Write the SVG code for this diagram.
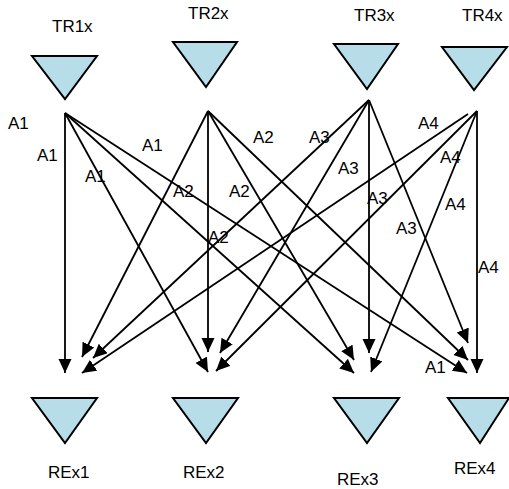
<svg xmlns="http://www.w3.org/2000/svg" width="509" height="489" viewBox="0 0 509 489">
<defs>
<style>
.tri{fill:#b7dde8;stroke:#000;stroke-width:2;stroke-linejoin:miter}
.lbl{font-family:"Liberation Sans",Arial,sans-serif;font-size:17px;fill:#000}
.c{stroke:#000;stroke-width:1.8;fill:none;marker-end:url(#ah)}
</style>
<marker id="ah" markerUnits="userSpaceOnUse" markerWidth="15" markerHeight="14" refX="14" refY="6.5" orient="auto">
<path d="M0,0 L14,6.5 L0,13 z" fill="#000"/>
</marker>
</defs>
<rect width="509" height="489" fill="#fff"/>
<g id="TR1"><polygon class="tri" points="32,56 97,56 65,99"/><text class="lbl" x="52" y="32">TR1x</text></g>
<g id="TR2"><polygon class="tri" points="173,42 237,42 206,87"/><text class="lbl" x="188" y="19">TR2x</text></g>
<g id="TR3"><polygon class="tri" points="334,44 398,44 367,89"/><text class="lbl" x="354" y="21">TR3x</text></g>
<g id="TR4"><polygon class="tri" points="442,47 507,47 474,90"/><text class="lbl" x="462" y="21">TR4x</text></g>
<g id="REx1"><polygon class="tri" points="32,398 97,398 65,443"/><text class="lbl" x="48" y="478">REx1</text></g>
<g id="REx2"><polygon class="tri" points="173,398 238,398 206,443"/><text class="lbl" x="183" y="478">REx2</text></g>
<g id="REx3"><polygon class="tri" points="334,398 399,398 367,443"/><text class="lbl" x="337" y="485">REx3</text></g>
<g id="REx4"><polygon class="tri" points="448,398 509,398 480,443"/><text class="lbl" x="454" y="474">REx4</text></g>
<g id="connectors">
<line class="c" x1="65" y1="113" x2="65" y2="373"/>
<line class="c" x1="65" y1="113" x2="208" y2="372"/>
<line class="c" x1="65" y1="113" x2="354" y2="373"/>
<line class="c" x1="65" y1="113" x2="467" y2="373"/>
<line class="c" x1="208" y1="111" x2="208" y2="352"/>
<line class="c" x1="208" y1="111" x2="82" y2="357"/>
<line class="c" x1="208" y1="111" x2="354" y2="360"/>
<line class="c" x1="208" y1="111" x2="468" y2="360"/>
<line class="c" x1="369" y1="100" x2="369" y2="353"/>
<line class="c" x1="369" y1="100" x2="93" y2="358"/>
<line class="c" x1="369" y1="100" x2="220" y2="353"/>
<line class="c" x1="369" y1="100" x2="468" y2="343"/>
<line class="c" x1="477" y1="111" x2="477" y2="373"/>
<line class="c" x1="468" y1="114" x2="82" y2="373"/>
<line class="c" x1="477" y1="111" x2="216" y2="371"/>
<line class="c" x1="477" y1="111" x2="371" y2="372"/>
</g>
<g id="labels">
<text class="lbl" x="8" y="129">A1</text>
<text class="lbl" x="37" y="161">A1</text>
<text class="lbl" x="85" y="182">A1</text>
<text class="lbl" x="142" y="151">A1</text>
<text class="lbl" x="425" y="373">A1</text>
<text class="lbl" x="253" y="143">A2</text>
<text class="lbl" x="173" y="197">A2</text>
<text class="lbl" x="229" y="197">A2</text>
<text class="lbl" x="208" y="243">A2</text>
<text class="lbl" x="309" y="143">A3</text>
<text class="lbl" x="338" y="174">A3</text>
<text class="lbl" x="367" y="204">A3</text>
<text class="lbl" x="396" y="234">A3</text>
<text class="lbl" x="418" y="129">A4</text>
<text class="lbl" x="440" y="163">A4</text>
<text class="lbl" x="445" y="210">A4</text>
<text class="lbl" x="478" y="273">A4</text>
</g>
</svg>
